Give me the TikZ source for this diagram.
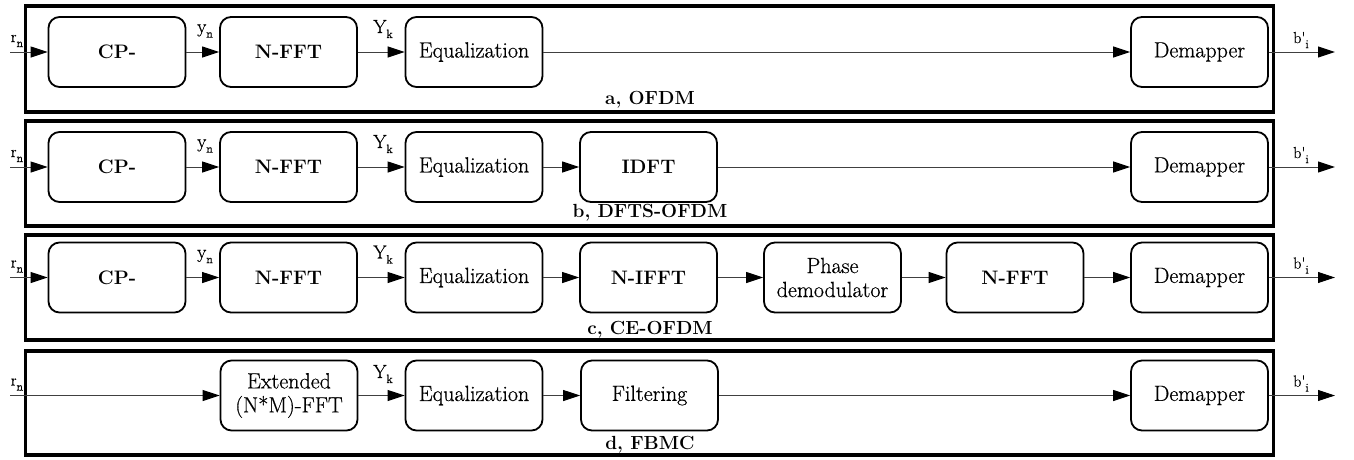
\documentclass[tikz,border=0pt]{standalone}
\usepackage{fontspec}
\setmainfont{Latin Modern Roman}
\newfontfamily\heavyrm{Latin Modern Roman}[FakeBold=0.6]
\usetikzlibrary{arrows.meta}
\newcommand\mysub[1]{\raisebox{-5pt}{\fontsize{12}{12}\selectfont #1}}
\begin{document}
\begin{tikzpicture}[x=1pt,y=-1pt,
  blk/.style={draw,line width=1.8pt,rounded corners=11pt,minimum width=137pt,minimum height=70pt,inner sep=0pt,align=center,font=\heavyrm\fontsize{22}{24}\selectfont},
  bblk/.style={blk,font=\fontsize{19.5}{22}\selectfont\bfseries},
  frame/.style={draw,line width=3.5pt},
  conn/.style={draw=black!75,line width=1pt,-{Triangle[length=17pt,width=11pt,black]}},
  sig/.style={inner sep=0pt,font=\heavyrm\fontsize{19}{20}\selectfont},
  ssig/.style={inner sep=0pt,font=\heavyrm\fontsize{16}{18}\selectfont},
  ttl/.style={inner sep=0pt,font=\fontsize{19}{20}\selectfont\bfseries}]
\useasboundingbox (0,0) rectangle (1354,459);
% ---------- panel a ----------
\node[frame,minimum width=1248pt,minimum height=106pt,inner sep=0pt] (fa) at (649.5,59) {};
\node[bblk] (cpa) at (117,52) {CP-};
\node[bblk] (ffta) at (288.5,52) {N-FFT};
\node[blk] (eqa) at (474,52) {Equalization};
\node[blk] (dema) at (1199.5,52) {Demapper};
\coordinate (ina) at (10,52);
\coordinate (outa) at (1335,52);
\draw[conn] (ina) -- (cpa);
\draw[conn] (cpa) -- (ffta);
\draw[conn] (ffta) -- (eqa);
\draw[conn] (eqa) -- (dema);
\draw[conn] (dema) -- (outa);
\node[ssig] (rna) at (17,41) {r\mysub{n}};
\node[sig] (yna) at (205,31) {y\mysub{n}};
\node[sig] (yka) at (383,29) {Y\mysub{k}};
\node[ssig] (ba) at (1301,40) {b\textquotesingle\mysub{i}};
\node[ttl] (la) at (650,100) {a, OFDM};
% ---------- panel b ----------
\node[frame,minimum width=1248pt,minimum height=105pt,inner sep=0pt] (fb) at (649.5,173.5) {};
\node[bblk] (cpb) at (117,167) {CP-};
\node[bblk] (fftb) at (288.5,167) {N-FFT};
\node[blk] (eqb) at (474,167) {Equalization};
\node[bblk] (idftb) at (648.5,167) {IDFT};
\node[blk] (demb) at (1199.5,167) {Demapper};
\coordinate (inb) at (10,167);
\coordinate (outb) at (1335,167);
\draw[conn] (inb) -- (cpb);
\draw[conn] (cpb) -- (fftb);
\draw[conn] (fftb) -- (eqb);
\draw[conn] (eqb) -- (idftb);
\draw[conn] (idftb) -- (demb);
\draw[conn] (demb) -- (outb);
\node[ssig] (rnb) at (17,156) {r\mysub{n}};
\node[sig] (ynb) at (205,146) {y\mysub{n}};
\node[sig] (ykb) at (383,144) {Y\mysub{k}};
\node[ssig] (bb) at (1301,155) {b\textquotesingle\mysub{i}};
\node[ttl] (lb) at (650,213) {b, DFTS-OFDM};
% ---------- panel c ----------
\node[frame,minimum width=1248pt,minimum height=105pt,inner sep=0pt] (fc) at (649.5,287.5) {};
\node[bblk] (cpc) at (117,277.5) {CP-};
\node[bblk] (fftc) at (288.5,277.5) {N-FFT};
\node[blk] (eqc) at (474,277.5) {Equalization};
\node[bblk] (ifftc) at (648.5,277.5) {N-IFFT};
\node[blk] (phc) at (832.5,277.5) {Phase\\demodulator};
\node[bblk] (fft2c) at (1015,277.5) {N-FFT};
\node[blk] (demc) at (1199.5,277.5) {Demapper};
\coordinate (inc) at (10,277.5);
\coordinate (outc) at (1335,277.5);
\draw[conn] (inc) -- (cpc);
\draw[conn] (cpc) -- (fftc);
\draw[conn] (fftc) -- (eqc);
\draw[conn] (eqc) -- (ifftc);
\draw[conn] (ifftc) -- (phc);
\draw[conn] (phc) -- (fft2c);
\draw[conn] (fft2c) -- (demc);
\draw[conn] (demc) -- (outc);
\node[ssig] (rnc) at (17,266.5) {r\mysub{n}};
\node[sig] (ync) at (205,256.5) {y\mysub{n}};
\node[sig] (ykc) at (383,254.5) {Y\mysub{k}};
\node[ssig] (bc) at (1301,265.5) {b\textquotesingle\mysub{i}};
\node[ttl] (lc) at (650,330) {c, CE-OFDM};
% ---------- panel d ----------
\node[frame,minimum width=1248pt,minimum height=104pt,inner sep=0pt] (fd) at (649.5,403) {};
\node[blk] (extd) at (289,395.5) {Extended\\(N*M)-FFT};
\node[blk] (eqd) at (474,395.5) {Equalization};
\node[blk] (fild) at (649.5,395.5) {Filtering};
\node[blk] (demd) at (1199.5,395.5) {Demapper};
\coordinate (ind) at (10,395.5);
\coordinate (outd) at (1335,395.5);
\draw[conn] (ind) -- (extd);
\draw[conn] (extd) -- (eqd);
\draw[conn] (eqd) -- (fild);
\draw[conn] (fild) -- (demd);
\draw[conn] (demd) -- (outd);
\node[ssig] (rnd) at (17,384.5) {r\mysub{n}};
\node[sig] (ykd) at (383,374) {Y\mysub{k}};
\node[ssig] (bd) at (1301,383.5) {b\textquotesingle\mysub{i}};
\node[ttl] (ld) at (650,445) {d, FBMC};
\end{tikzpicture}
\end{document}
